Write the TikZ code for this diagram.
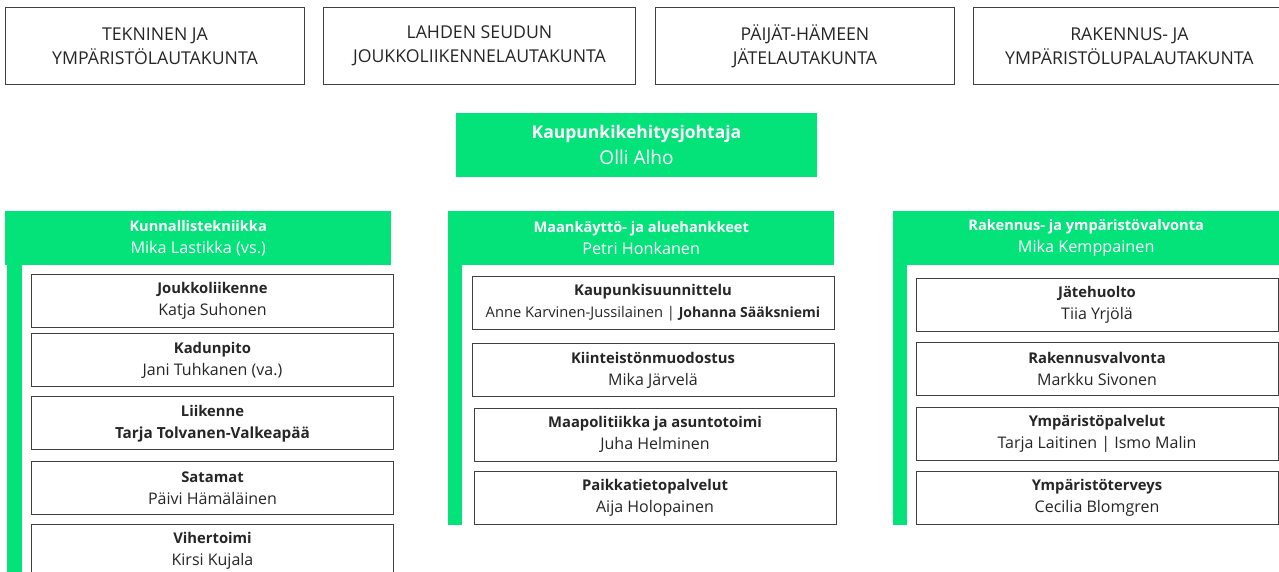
\documentclass[tikz,border=0pt]{standalone}
\usepackage{fontspec}
\setmainfont{Open Sans}
\usetikzlibrary{positioning}
\definecolor{vihrea}{RGB}{4,226,122}
\definecolor{teksti}{RGB}{38,38,38}
\newcommand {\otsikko} {15}
\newcommand {\yks} [2] {{\fontsize{\otsikko}{22}\selectfont\bfseries #1}\\#2}

\begin{document}
\begin{tikzpicture}[x=1pt, y=-1pt, inner sep=0pt, node distance=9pt,
	lautakunta/.style={draw=black!75, line width=0.9pt, anchor=north west, minimum height=77pt, align=center, text=teksti, font=\fontsize{17.7}{24}\selectfont},
	johtaja/.style={fill=vihrea, text=white, minimum width=361pt, minimum height=64pt, align=center, font=\fontsize{19}{26}\selectfont\renewcommand{\otsikko}{17.5}},
	tulosalue/.style={fill=vihrea, text=white, anchor=north west, minimum width=386pt, minimum height=54pt, align=center, font=\fontsize{16.2}{22}\selectfont\renewcommand{\otsikko}{14.6}},
	yksikko/.style={draw=black!75, line width=0.9pt, fill=white, minimum width=362pt, minimum height=53pt, align=center, text=teksti, font=\fontsize{16}{22}\selectfont\renewcommand{\otsikko}{14.8}}]
	\useasboundingbox (0,0) rectangle (1279,571);

	% lautakunnat
	\node[lautakunta, minimum width=299pt] (tyl) at (5,7) {TEKNINEN JA\\YMPÄRISTÖLAUTAKUNTA};
	\node[lautakunta, minimum width=312pt] (jol) at (323,7) {LAHDEN SEUDUN\\JOUKKOLIIKENNELAUTAKUNTA};
	\node[lautakunta, minimum width=299pt] (jtl) at (655,7) {PÄIJÄT-HÄMEEN\\JÄTELAUTAKUNTA};
	\node[lautakunta, minimum width=312pt] (ryl) at (973,7) {RAKENNUS- JA\\YMPÄRISTÖLUPALAUTAKUNTA};

	\node[johtaja] (kkj) at (636.5,145) {\yks{Kaupunkikehitysjohtaja}{Olli Alho}};

	% tulosalueet
	\node[tulosalue] (kt) at (5,211) {\yks{Kunnallistekniikka}{Mika Lastikka (vs.)}};
	\node[tulosalue] (mk) at (448,211) {\yks{Maankäyttö- ja aluehankkeet}{Petri Honkanen}};
	\node[tulosalue] (ryv) at (893,211) {\yks{Rakennus- ja ympäristövalvonta}{Mika Kemppainen}};

	% kunnallistekniikka
	\node[yksikko] (jl) at (212.5,300.5) {\yks{Joukkoliikenne}{Katja Suhonen}};
	\node[yksikko] (kp) [below=6pt of jl] {\yks{Kadunpito}{Jani Tuhkanen (va.)}};
	\node[yksikko] (lii) [below=9pt of kp] {\yks{Liikenne}{\fontsize{15.3}{22}\selectfont\bfseries Tarja Tolvanen-Valkeapää}};
	\node[yksikko] (sat) [below=11pt of lii] {\yks{Satamat}{Päivi Hämäläinen}};
	\node[yksikko] (vih) [below=9pt of sat] {\yks{Vihertoimi}{Kirsi Kujala}};

	% maankaytto
	\node[yksikko] (ks) at (653,303) {\yks{Kaupunkisuunnittelu}{{\fontsize{14.7}{20}\selectfont Anne Karvinen-Jussilainen | \fontsize{14}{20}\selectfont\bfseries Johanna Sääksniemi}}};
	\node[yksikko] (kim) [below=13pt of ks] {\yks{Kiinteistönmuodostus}{Mika Järvelä}};
	\node[yksikko] (mpa) [below=11pt of kim, xshift=2pt] {\yks{Maapolitiikka ja asuntotoimi}{Juha Helminen}};
	\node[yksikko] (pkt) [below=9pt of mpa] {\yks{Paikkatietopalvelut}{Aija Holopainen}};

	% rakennus- ja ymparistovalvonta
	\node[yksikko] (jh) at (1097,304.5) {\yks{Jätehuolto}{Tiia Yrjölä}};
	\node[yksikko] (rv) [below=11pt of jh] {\yks{Rakennusvalvonta}{Markku Sivonen}};
	\node[yksikko] (yp) [below=11pt of rv] {\yks{Ympäristöpalvelut}{Tarja Laitinen | Ismo Malin}};
	\node[yksikko] (yt) [below=10pt of yp] {\yks{Ympäristöterveys}{Cecilia Blomgren}};

	% palkit
	\fill[vihrea] ([xshift=2pt]kt.south west) rectangle ++(15,320);
	\fill[vihrea] (mk.south west) rectangle ([xshift=14pt]pkt.south -| mk.west);
	\fill[vihrea] (ryv.south west) rectangle ([xshift=14pt]yt.south -| ryv.west);
\end{tikzpicture}
\end{document}
